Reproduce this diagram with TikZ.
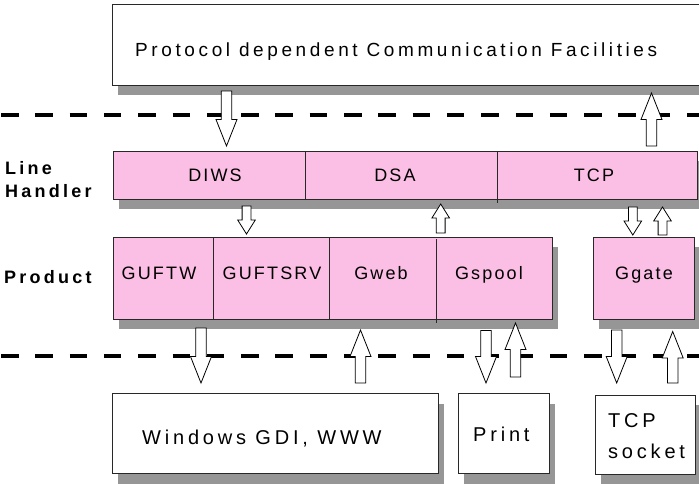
\documentclass[tikz,border=0pt]{standalone}
\usepackage{fontspec}
\setmainfont{Liberation Sans}[LetterSpace=19]
\usetikzlibrary{calc,shadows}
\definecolor{pinkfill}{RGB}{251,190,228}
\definecolor{shadowgray}{RGB}{150,150,150}
\definecolor{edgecol}{RGB}{40,40,40}
\tikzset{
  box/.style={draw=edgecol, line width=0.9pt, inner sep=0pt, anchor=center,
    drop shadow={shadow xshift=6pt, shadow yshift=-10pt, fill=shadowgray, opacity=1}},
  pinkbox/.style={box, fill=pinkfill},
  whitebox/.style={box, fill=white},
  divider/.style={draw=edgecol, line width=0.9pt},
  celltext/.style={font=\fontsize{18}{20}\addfontfeatures{LetterSpace=12}\selectfont, inner sep=0pt, anchor=base},
  toptext/.style={font=\fontsize{19}{24}\selectfont, inner sep=0pt, anchor=base west},
  bottext/.style={font=\fontsize{20}{31}\selectfont, inner sep=0pt, anchor=base west},
  sidelabel/.style={font=\fontsize{18}{20}\bfseries\addfontfeatures{LetterSpace=18}\selectfont, inner sep=0pt, anchor=base west},
  dashline/.style={line width=4.5pt, dash pattern=on 17.5pt off 16.8pt, black},
  blockarrow/.style n args={3}{draw=black, fill=white, line width=0.8pt, line join=miter,
    to path={let \p1=(\tikztostart), \p2=(\tikztotarget), \p3=($(\p2)!#3!(\p1)$) in
      ($(\p1)!#1!90:(\p2)$) -- ($(\p3)!#1!90:(\p2)$) -- ($(\p3)!#2!90:(\p2)$) -- (\p2)
      -- ($(\p3)!#2!-90:(\p2)$) -- ($(\p3)!#1!-90:(\p2)$) -- ($(\p1)!#1!-90:(\p2)$) -- cycle}},
  bigarrow/.style={blockarrow={5.2pt}{10.5pt}{26.5pt}},
  smallarrow/.style={blockarrow={4.4pt}{8.8pt}{14pt}}
}
\begin{document}
\begin{tikzpicture}[x=1pt, y=-1pt]
\useasboundingbox (0,0) rectangle (699,483);
\clip (0,0) rectangle (699,483);

% dashed separators
\coordinate (d1a) at (1,115); \coordinate (d1b) at (699,115);
\coordinate (d2a) at (1,356); \coordinate (d2b) at (699,356);
\draw[dashline] (d1a) -- (d1b);
\draw[dashline] (d2a) -- (d2b);

% boxes
\node[whitebox, minimum width=608pt, minimum height=81pt] (top) at (416,44.5) {};
\node[pinkbox, minimum width=584pt, minimum height=48pt] (lh) at (405,175) {};
\node[pinkbox, minimum width=439pt, minimum height=82pt] (prod) at (332.5,278) {};
\node[pinkbox, minimum width=101pt, minimum height=82pt] (ggate) at (643.5,278) {};
\node[whitebox, minimum width=326pt, minimum height=80pt] (win) at (275,433.5) {};
\node[whitebox, minimum width=91pt, minimum height=80pt] (print) at (503.5,433.5) {};
\node[whitebox, minimum width=100pt, minimum height=79pt] (sock) at (645,434.5) {};

% dividers
\draw[divider] (305,151) -- (305,199);
\draw[divider] (497,151) -- (497,203);
\draw[divider] (213.5,237) -- (213.5,319);
\draw[divider] (329.5,237) -- (329.5,319);
\draw[divider] (436,239) -- (436,323);

% texts
\node[toptext] (ttop) at (135,56) {Protocol dependent Communication Facilities};
\node[sidelabel] (tline) at (5,174) {Line};
\node[sidelabel] (thand) at (5,197) {Handler};
\node[sidelabel] (tprod) at (4,283) {Product};
\node[celltext] (tdiws) at (215,181) {DIWS};
\node[celltext] (tdsa) at (395,181) {DSA};
\node[celltext] (ttcp) at (594,181) {TCP};
\node[celltext] (tguftw) at (159,279) {GUFTW};
\node[celltext] (tguftsrv) at (272,279) {GUFTSRV};
\node[celltext] (tgweb) at (381,279) {Gweb};
\node[celltext] (tgspool) at (489,279) {Gspool};
\node[celltext] (tggate) at (644,279) {Ggate};
\node[bottext] (twin) at (142,444) {Windows GDI, WWW};
\node[bottext] (tprint) at (473,441.5) {Print};
\node[bottext, anchor=north west, align=left] (tsock) at (608,413) {TCP\\socket};

% block arrows
\coordinate (a1s) at (226.5,91);  \coordinate (a1e) at (226.5,146);
\coordinate (a2s) at (651.5,146); \coordinate (a2e) at (651.5,93);
\coordinate (a3s) at (246.5,206); \coordinate (a3e) at (246.5,234);
\coordinate (a4s) at (440.7,233); \coordinate (a4e) at (440.7,204);
\coordinate (a5s) at (632.8,207); \coordinate (a5e) at (632.8,235);
\coordinate (a6s) at (662.5,235); \coordinate (a6e) at (662.5,207);
\coordinate (a7s) at (201,328);   \coordinate (a7e) at (201,383);
\coordinate (a8s) at (360.5,383); \coordinate (a8e) at (360.5,330);
\coordinate (a9s) at (486,330.5); \coordinate (a9e) at (486,383);
\coordinate (a10s) at (515.5,377); \coordinate (a10e) at (515.5,323);
\coordinate (a11s) at (616.7,330); \coordinate (a11e) at (616.7,383);
\coordinate (a12s) at (672.7,383); \coordinate (a12e) at (672.7,331.5);

\draw[bigarrow] (a1s) to (a1e);
\draw[bigarrow] (a2s) to (a2e);
\draw[smallarrow] (a3s) to (a3e);
\draw[smallarrow] (a4s) to (a4e);
\draw[smallarrow] (a5s) to (a5e);
\draw[smallarrow] (a6s) to (a6e);
\draw[bigarrow] (a7s) to (a7e);
\draw[bigarrow] (a8s) to (a8e);
\draw[bigarrow] (a9s) to (a9e);
\draw[bigarrow] (a10s) to (a10e);
\draw[bigarrow] (a11s) to (a11e);
\draw[bigarrow] (a12s) to (a12e);
\end{tikzpicture}
\end{document}
